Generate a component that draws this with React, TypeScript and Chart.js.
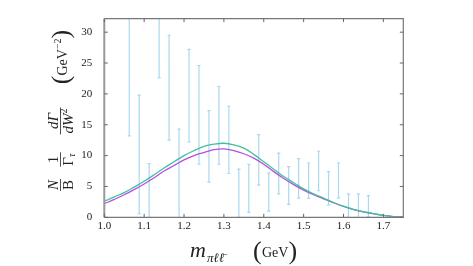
import React, { useEffect, useRef } from "react";
import { Chart, registerables } from "chart.js";

Chart.register(...registerables);

// Curve sampling grid (GeV)
const massGrid = [
  1.0, 1.025, 1.05, 1.075, 1.1, 1.125, 1.15, 1.175, 1.2, 1.225, 1.25, 1.275, 1.3, 1.325, 1.35, 1.375,
  1.4, 1.425, 1.45, 1.475, 1.5, 1.525, 1.55, 1.575, 1.6, 1.625, 1.65, 1.675, 1.7, 1.725, 1.75,
];
const tealCurve = [
  2.6, 3.3, 4.0, 4.9, 5.85, 6.9, 8.0, 9.0, 10.0, 10.8, 11.5, 11.85, 12.0, 11.75, 11.2, 10.2,
  9.0, 7.8, 6.6, 5.6, 4.6, 3.8, 3.1, 2.4, 1.8, 1.3, 0.9, 0.6, 0.3, 0.12, 0.02,
];
const magentaCurve = [
  2.2, 2.9, 3.65, 4.5, 5.4, 6.4, 7.5, 8.4, 9.3, 10.0, 10.5, 10.95, 11.1, 10.8, 10.3, 9.6,
  8.6, 7.4, 6.3, 5.3, 4.4, 3.65, 3.0, 2.35, 1.75, 1.25, 0.88, 0.58, 0.3, 0.12, 0.02,
];

// Data error bars
const binCenters = [
  1.0625, 1.0875, 1.1125, 1.1375, 1.1625, 1.1875, 1.2125, 1.2375, 1.2625, 1.2875, 1.3125, 1.3375,
  1.3625, 1.3875, 1.4125, 1.4375, 1.4625, 1.4875, 1.5125, 1.5375, 1.5625, 1.5875, 1.6125, 1.6375, 1.6625,
];
const errLow = [
  13.2, 0.6, -1.0, 22.6, 12.5, -0.1, 12.2, 8.6, 5.7, 8.6, 7.1, 0.0,
  0.8, 5.2, 1.0, 3.8, 2.1, 3.1, 3.1, 4.3, 2.0, 3.1, 0.0, -0.5, 0.1,
];
const errHigh = [
  40.0, 19.8, 8.7, 40.0, 29.5, 14.3, 27.2, 24.6, 17.3, 21.2, 18.0, 7.8,
  8.6, 13.4, 7.2, 10.4, 8.2, 9.5, 8.8, 10.7, 7.4, 8.8, 3.8, 3.8, 3.5,
];

const xTicks = [1.0, 1.1, 1.2, 1.3, 1.4, 1.5, 1.6, 1.7];
const yTicks = [0, 5, 10, 15, 20, 25, 30];

const SERIF = "'Liberation Serif', 'DejaVu Serif', serif";

type Run = { text: string; font: string; dy?: number };

function runsWidth(ctx: CanvasRenderingContext2D, runs: Run[]) {
  let w = 0;
  for (const r of runs) {
    ctx.font = r.font;
    w += ctx.measureText(r.text).width;
  }
  return w;
}

function drawRuns(ctx: CanvasRenderingContext2D, runs: Run[], x: number, y: number) {
  let cx = x;
  for (const r of runs) {
    ctx.font = r.font;
    ctx.fillText(r.text, cx, y + (r.dy || 0));
    cx += ctx.measureText(r.text).width;
  }
}

// rotated runs: baseline at screen x = bx, centered along screen y = cy
function drawRotRuns(ctx: CanvasRenderingContext2D, runs: Run[], bx: number, cy: number) {
  ctx.save();
  ctx.translate(bx, cy);
  ctx.rotate(-Math.PI / 2);
  ctx.textAlign = "left";
  ctx.textBaseline = "alphabetic";
  const w = runsWidth(ctx, runs);
  drawRuns(ctx, runs, -w / 2, 0);
  ctx.restore();
  return w;
}

function drawRotFrac(ctx: CanvasRenderingContext2D, num: Run[], den: Run[], cy: number) {
  const wn = drawRotRuns(ctx, num, 57.5, cy);
  const wd = drawRotRuns(ctx, den, 72.5, cy);
  const w = Math.max(wn, wd) + 2;
  ctx.save();
  ctx.strokeStyle = "#222";
  ctx.lineWidth = 0.8;
  ctx.beginPath();
  ctx.moveTo(60.5, cy - w / 2);
  ctx.lineTo(60.5, cy + w / 2);
  ctx.stroke();
  ctx.restore();
}

export default function App() {
  const ref = useRef<HTMLCanvasElement>(null);

  useEffect(() => {
    document.body.style.margin = "0";
    const canvas = ref.current!;

    const errorBarPlugin = {
      id: "errorBars",
      beforeDatasetsDraw(chart: any) {
        const { ctx, chartArea, scales } = chart;
        const x = scales.x;
        const y = scales.y;
        ctx.save();
        ctx.beginPath();
        ctx.rect(chartArea.left, chartArea.top, chartArea.right - chartArea.left, chartArea.bottom - chartArea.top);
        ctx.clip();
        ctx.strokeStyle = "#a9d8ef";
        ctx.lineWidth = 1.2;
        binCenters.forEach((c, i) => {
          const px = x.getPixelForValue(c);
          const y1 = y.getPixelForValue(errLow[i]);
          const y2 = y.getPixelForValue(errHigh[i]);
          ctx.beginPath();
          ctx.moveTo(px, y1);
          ctx.lineTo(px, y2);
          ctx.moveTo(px - 1.6, y1);
          ctx.lineTo(px + 1.6, y1);
          ctx.moveTo(px - 1.6, y2);
          ctx.lineTo(px + 1.6, y2);
          ctx.stroke();
        });
        ctx.restore();
      },
    };

    const framePlugin = {
      id: "frame",
      afterDraw(chart: any) {
        const { ctx, chartArea, scales } = chart;
        const { left, right, top, bottom } = chartArea;
        const x = scales.x;
        const y = scales.y;
        ctx.save();
        ctx.strokeStyle = "#777";
        ctx.lineWidth = 1.2;
        ctx.beginPath();
        ctx.moveTo(left, top);
        ctx.lineTo(right, top);
        ctx.lineTo(right, bottom);
        ctx.lineTo(left, bottom);
        ctx.stroke();
        ctx.strokeStyle = "#999";
        ctx.lineWidth = 2;
        ctx.beginPath();
        ctx.moveTo(left, top);
        ctx.lineTo(left, bottom);
        ctx.stroke();
        ctx.strokeStyle = "#666";
        ctx.lineWidth = 1;
        ctx.beginPath();
        const tl = 3.5;
        xTicks.forEach((v) => {
          const px = x.getPixelForValue(v);
          ctx.moveTo(px, bottom);
          ctx.lineTo(px, bottom - tl);
          ctx.moveTo(px, top);
          ctx.lineTo(px, top + tl);
        });
        yTicks.forEach((v) => {
          const py = y.getPixelForValue(v);
          ctx.moveTo(left, py);
          ctx.lineTo(left + tl, py);
          ctx.moveTo(right, py);
          ctx.lineTo(right - tl, py);
        });
        ctx.stroke();
        ctx.restore();

        // Axis titles
        ctx.save();
        ctx.fillStyle = "#222";
        ctx.textAlign = "left";
        ctx.textBaseline = "alphabetic";
        // x title
        ctx.font = `italic 22px ${SERIF}`;
        ctx.fillText("m", 190, 257);
        ctx.font = `italic 13px ${SERIF}`;
        ctx.fillText("πℓℓ\u0304", 207, 262);
        ctx.font = `26px ${SERIF}`;
        ctx.fillText("(", 253, 258.5);
        ctx.font = `14px ${SERIF}`;
        ctx.fillText("GeV", 262, 257);
        ctx.font = `26px ${SERIF}`;
        ctx.fillText(")", 288.5, 258.5);

        // y title (rotated)
        drawRotRuns(
          ctx,
          [
            { text: "(", font: `26px ${SERIF}`, dy: 1.5 },
            { text: "GeV", font: `14px ${SERIF}` },
            { text: "−2", font: `10px ${SERIF}`, dy: -6 },
            { text: ")", font: `26px ${SERIF}`, dy: 1.5 },
          ],
          67,
          57
        );
        drawRotFrac(
          ctx,
          [{ text: "dΓ", font: `italic 15px ${SERIF}` }],
          [
            { text: "dW", font: `italic 15px ${SERIF}` },
            { text: "2", font: `10px ${SERIF}`, dy: -6 },
          ],
          121
        );
        drawRotFrac(
          ctx,
          [{ text: "1", font: `15px ${SERIF}` }],
          [
            { text: "Γ", font: `15px ${SERIF}` },
            { text: "τ", font: `italic 10px ${SERIF}`, dy: 2.5 },
          ],
          159.5
        );
        drawRotFrac(
          ctx,
          [{ text: "N", font: `italic 15px ${SERIF}` }],
          [{ text: "B", font: `15px ${SERIF}` }],
          185
        );
        ctx.restore();
      },
    };

    const chart = new Chart(canvas, {
      type: "line",
      data: {
        datasets: [
          {
            label: "model A",
            data: massGrid.map((m, i) => ({ x: m, y: tealCurve[i] })),
            borderColor: "#45bf9e",
            borderWidth: 1.3,
            pointRadius: 0,
            tension: 0.35,
            fill: false,
          },
          {
            label: "model B",
            data: massGrid.map((m, i) => ({ x: m, y: magentaCurve[i] })),
            borderColor: "#b64ee2",
            borderWidth: 1.3,
            pointRadius: 0,
            tension: 0.35,
            fill: false,
          },
        ],
      },
      options: {
        responsive: false,
        animation: false,
        devicePixelRatio: 1,
        layout: { padding: { left: 0, right: 69.7, top: 11.7, bottom: 0 } },
        plugins: { legend: { display: false }, tooltip: { enabled: false } },
        scales: {
          x: {
            type: "linear",
            min: 1.0,
            max: 1.75,
            afterBuildTicks: (s: any) => {
              s.ticks = xTicks.map((v) => ({ value: v }));
            },
            afterFit: (s: any) => {
              s.height = 48.7;
            },
            grid: { display: false, drawTicks: false },
            border: { display: false },
            ticks: {
              autoSkip: false,
              maxRotation: 0,
              padding: 2,
              color: "#222",
              font: { family: SERIF, size: 11 },
              callback: (v: any) => Number(v).toFixed(1),
            },
          },
          y: {
            type: "linear",
            min: 0,
            max: 32.2,
            afterBuildTicks: (s: any) => {
              s.ticks = yTicks.map((v) => ({ value: v }));
            },
            afterFit: (s: any) => {
              s.width = 104.3;
            },
            grid: { display: false, drawTicks: false },
            border: { display: false },
            ticks: {
              autoSkip: false,
              padding: 12,
              color: "#222",
              font: { family: SERIF, size: 11 },
              callback: (v: any) => String(v),
            },
          },
        },
      },
      plugins: [errorBarPlugin, framePlugin],
    });

    return () => chart.destroy();
  }, []);

  return <canvas ref={ref} width={473} height={266} style={{ display: "block" }} />;
}
